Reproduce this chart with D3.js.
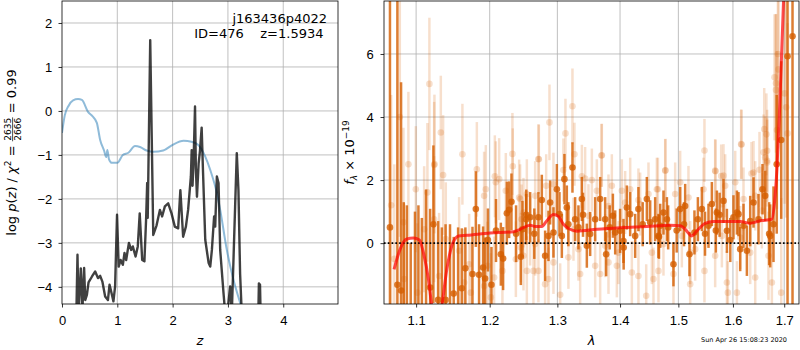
<!DOCTYPE html>
<html>
<head>
<meta charset="utf-8">
<script src="https://cdn.jsdelivr.net/npm/d3@7"></script>
<style>
  body { margin: 0; background: #fff; }
  svg { font-family: "DejaVu Sans", sans-serif; }
  .axis text { font-size: 13px; fill: #000; }
  .axis line { stroke: #000; stroke-width: 0.8; }
  .axis path { display: none; }
  .grid line { stroke: #b0b0b0; stroke-width: 0.8; }
  .frame { fill: none; stroke: #000; stroke-width: 0.8; }
</style>
</head>
<body>
<svg id="fig" width="800" height="350"></svg>
<script>
// ---- values ----
var objName = 'j163436p4022',
    objId = 476,
    zBest = 1.5934,
    chi2 = 2635,
    nDof = 2666,
    stamp = 'Sun Apr 26 15:08:23 2020';

var zTicks = [0, 1, 2, 3, 4],
    pTicks = [-4, -3, -2, -1, 0, 1, 2],
    lamTicks = [1.1, 1.2, 1.3, 1.4, 1.5, 1.6, 1.7],
    fluxTicks = [0, 2, 4, 6];

// log p(z) (black)
var pzCurve = [
  [0.26,-4.6],[0.28,-3.27],[0.30,-4.6],[0.34,-3.58],[0.37,-4.5],[0.40,-3.57],[0.42,-4.3],
  [0.45,-4.18],[0.48,-3.9],[0.54,-3.77],[0.60,-3.65],[0.65,-3.8],[0.69,-3.75],[0.73,-3.88],
  [0.78,-4.22],[0.83,-4.3],[0.86,-3.95],[0.91,-4.22],[0.93,-4.33],[0.96,-3.99],[0.995,-2.36],
  [1.025,-3.54],[1.06,-3.39],[1.10,-3.5],[1.13,-3.23],[1.16,-3.39],[1.21,-3.0],[1.25,-3.16],
  [1.28,-3.08],[1.33,-3.31],[1.37,-3.08],[1.405,-2.33],[1.45,-3.39],[1.49,-3.42],[1.52,-2.48],
  [1.54,-1.64],[1.55,-2.43],[1.595,1.61],[1.65,-2.82],[1.71,-2.6],[1.77,-2.25],[1.81,-2.4],
  [1.86,-2.17],[1.92,-2.1],[1.98,-2.33],[2.04,-2.63],[2.10,-2.67],[2.14,-1.8],[2.19,-2.86],
  [2.24,-2.63],[2.28,-2.25],[2.33,-1.49],[2.345,-0.89],[2.36,-1.7],[2.38,-1.1],[2.405,0.1],
  [2.42,-1.3],[2.44,-1.95],[2.47,-1.2],[2.495,-0.9],[2.525,-0.38],[2.55,-1.4],[2.59,-2.93],
  [2.65,-3.45],[2.68,-3.54],[2.71,-3.16],[2.75,-2.4],[2.77,-2.63],[2.80,-1.49],[2.83,-1.64],
  [2.86,-3.16],[2.92,-4.14],[2.95,-4.6],[2.99,-4.6],[3.04,-3.99],[3.07,-4.6],[3.10,-3.4],
  [3.13,-2.17],[3.16,-0.96],[3.19,-1.8],[3.22,-3.7],[3.25,-4.6],[3.55,-4.6],[3.56,-3.92],
  [3.58,-3.95],[3.59,-4.6]
];

// chi2 based curve (blue)
var chiCurve = [
  [0,-0.5],[0.05,-0.1],[0.12,0.12],[0.2,0.24],[0.29,0.27],[0.36,0.25],[0.47,-0.02],[0.55,-0.12],
  [0.63,-0.27],[0.69,-0.66],[0.76,-0.9],[0.8,-1.05],[0.82,-0.89],[0.85,-1.1],[0.9,-1.18],
  [1.0,-1.18],[1.1,-1.0],[1.2,-0.95],[1.32,-0.8],[1.41,-0.82],[1.53,-0.9],[1.65,-0.93],
  [1.83,-0.9],[2.0,-0.77],[2.2,-0.68],[2.34,-0.7],[2.46,-0.77],[2.59,-1.04],[2.68,-1.34],
  [2.8,-1.87],[2.86,-2.25],[2.98,-3.16],[3.1,-3.84],[3.22,-4.36],[3.3,-4.7]
];

// best-fit model (red)
var modelCurve = [
  [1.0717,-0.83],[1.0794,-0.19],[1.0880,0.13],[1.0965,0.16],[1.1043,0.10],[1.1095,-0.30],
  [1.1161,-1.14],[1.1206,-2.0],[1.1250,-2.6],[1.1300,-2.6],[1.1340,-2.0],[1.1407,-0.83],
  [1.1475,-0.08],[1.1565,0.23],[1.1680,0.25],[1.2006,0.32],[1.2342,0.36],[1.2440,0.44],
  [1.2588,0.57],[1.2663,0.53],[1.2763,0.53],[1.2839,0.71],[1.2940,0.91],[1.3016,0.85],
  [1.3093,0.60],[1.3198,0.44],[1.3303,0.38],[1.3621,0.44],[1.4001,0.49],[1.4451,0.53],
  [1.4854,0.57],[1.5032,0.55],[1.5121,0.44],[1.5241,0.23],[1.5331,0.39],[1.5483,0.63],
  [1.5636,0.69],[1.6138,0.69],[1.6330,0.63],[1.6524,0.71],[1.6754,0.76],[1.6806,1.29],
  [1.6854,2.35],[1.6900,3.94],[1.6987,7.7],[1.7020,9.0]
];

// binned spectrum: [lambda, flux, err]
var specBinned = [
  [1.0665,0.5,8.0],[1.0759,-1.32,9.5],[1.0806,-1.5,6.6],[1.0840,-2.2,3.5],[1.0880,-2.5,3.7],
  [1.0930,-3.0,3.0],[1.0985,-2.5,3.5],[1.1030,-2.8,4.0],[1.1075,-3.0,3.8],[1.1130,-2.5,4.2],
  [1.1184,-1.41,2.5],[1.1227,0.6,2.5],[1.1290,-1.8,2.5],[1.1340,-2.5,3.0],[1.1390,-1.8,2.4],
  [1.1450,-2.2,2.8],[1.1500,-1.6,1.8],[1.1560,-2.4,2.9],[1.1611,-1.43,1.9],[1.1660,-0.8,1.3],
  [1.1758,-0.98,1.5],[1.1805,1.08,1.2],[1.1850,-1.0,1.6],[1.1907,-0.77,1.3],[1.1935,-1.12,1.3],
  [1.1975,0.1,1.0],[1.2025,-1.32,1.2],[1.2090,0.4,1.0],[1.2159,-0.35,1.0],[1.2192,-0.49,1.0],
  [1.2246,0.95,1.0],[1.2279,1.06,0.9],[1.2313,1.31,0.9],[1.2380,0.3,0.9],[1.2450,-0.43,0.9],
  [1.2474,0.44,0.9],[1.2529,0.76,0.8],[1.2530,0.9,0.8],[1.2588,0.82,0.8],[1.2650,0.3,0.8],
  [1.2712,0.82,0.8],[1.2763,1.37,0.8],[1.2813,-0.40,0.8],[1.2864,0.23,0.8],[1.2889,1.29,0.7],
  [1.2940,0.34,0.8],[1.2992,1.71,0.8],[1.3032,0.92,0.7],[1.3069,0.23,0.7],[1.3109,2.03,0.8],
  [1.3146,1.13,0.7],[1.3170,0.6,0.7],[1.3234,2.40,0.8],[1.3276,0.76,0.7],[1.3328,0.50,0.7],
  [1.3382,1.40,0.7],[1.3400,0.9,0.7],[1.3461,-0.08,0.7],[1.3514,0.29,0.7],[1.3594,0.76,0.7],
  [1.3675,1.40,0.7],[1.3756,0.76,0.7],[1.3772,-0.35,0.7],[1.3830,0.5,0.7],[1.3882,0.87,0.7],
  [1.3920,0.34,0.7],[1.4001,0.39,0.7],[1.4057,0.07,0.7],[1.4060,-0.14,0.7],[1.4113,1.13,0.7],
  [1.4169,0.92,0.7],[1.4253,0.23,0.7],[1.4308,1.08,0.7],[1.4380,0.6,0.7],[1.4451,1.40,0.7],
  [1.4508,0.66,0.7],[1.4594,0.76,0.7],[1.4651,0.23,0.7],[1.4660,0.2,0.7],[1.4681,0.55,0.7],
  [1.4738,0.97,0.7],[1.4798,0.76,0.7],[1.4820,0.5,0.7],[1.4913,-0.67,0.7],[1.4970,0.4,0.7],
  [1.5032,1.08,0.7],[1.5100,0.6,0.7],[1.5121,1.18,0.7],[1.5198,-0.35,0.7],[1.5288,0.34,0.7],
  [1.5350,0.76,0.7],[1.5423,1.08,0.7],[1.5480,0.3,0.7],[1.5544,0.55,0.7],[1.5606,1.24,0.7],
  [1.5680,0.4,0.7],[1.5699,0.97,0.7],[1.5750,0.9,0.7],[1.5822,1.34,0.7],[1.5886,0.39,0.7],
  [1.5950,0.1,0.7],[1.6010,0.82,0.7],[1.6075,0.97,0.7],[1.6105,0.92,0.7],[1.6138,-0.19,0.7],
  [1.6201,0.55,0.7],[1.6266,-0.24,0.8],[1.6330,0.7,0.8],[1.6394,1.29,0.8],[1.6491,0.76,0.8],
  [1.6569,1.71,0.8],[1.6622,1.50,0.8],[1.6700,0.3,1.0],[1.6721,0.23,1.0],[1.6786,0.60,1.2],
  [1.6850,2.5,2.2],[1.6940,3.27,2.5],[1.7067,5.93,9.0],[1.7168,6.56,9.0]
];

// unbinned spectrum: [lambda, flux, err]
var specRaw = [
  [1.0680,1.2,3.5],[1.0720,-0.5,3.0],[1.0790,4.0,3.8],[1.0836,0.66,3.0],[1.0845,-1.14,2.4],
  [1.0900,2.5,2.3],[1.0996,1.71,2.0],[1.1017,-1.57,2.2],[1.1105,0.44,2.0],[1.1148,1.61,2.2],
  [1.1174,5.05,2.1],[1.1237,2.48,2.0],[1.1237,0.76,2.0],[1.1241,2.51,2.2],[1.1303,-1.04,2.0],
  [1.1326,3.51,1.8],[1.1357,2.16,1.9],[1.1393,0.13,1.8],[1.1574,-0.24,1.7],[1.1619,2.82,1.6],
  [1.1643,-1.25,1.7],[1.1712,-0.67,1.6],[1.1735,-1.57,1.6],[1.1819,2.34,1.5],[1.1921,1.5,1.4],
  [1.1921,-1.36,1.5],[1.1945,1.71,1.4],[1.1968,-0.72,1.4],[1.2016,-1.72,1.4],[1.2063,-1.09,1.3],
  [1.2073,2.12,1.3],[1.2087,1.93,1.3],[1.2135,2.03,1.3],[1.2182,-0.88,1.3],[1.2231,1.66,1.2],
  [1.2327,2.83,1.3],[1.2332,2.44,1.2],[1.2377,-0.51,1.2],[1.2425,1.45,1.2],[1.2440,1.4,1.1],
  [1.2450,-0.14,1.1],[1.2461,0.76,1.1],[1.2489,-0.4,1.1],[1.2489,0.97,1.1],[1.2539,1.56,1.1],
  [1.2539,-0.88,1.1],[1.2588,0.39,1.1],[1.2637,-0.88,1.1],[1.2663,1.5,1.1],[1.2663,-0.03,1.0],
  [1.2712,2.67,1.1],[1.2712,-0.88,1.0],[1.2718,2.66,1.1],[1.2813,-1.3,1.0],[1.2829,1.82,1.0],
  [1.2864,-1.14,1.0],[1.2879,3.83,1.2],[1.2940,1.87,1.0],[1.2940,-0.61,1.0],[1.3043,-1.64,1.0],
  [1.3093,2.32,1.0],[1.3125,3.48,1.1],[1.3171,-0.45,1.0],[1.3234,4.34,1.2],[1.3250,0.44,1.0],
  [1.3265,2.82,1.0],[1.3328,-0.19,1.0],[1.3355,-0.98,1.0],[1.3382,2.12,1.0],[1.3434,2.05,1.0],
  [1.3487,0.87,1.0],[1.3541,2.0,1.0],[1.3594,-0.72,1.0],[1.3621,1.66,1.0],[1.3675,-0.98,1.0],
  [1.3696,2.78,1.0],[1.3702,2.79,1.0],[1.3756,-0.08,1.0],[1.3810,1.18,1.0],[1.3810,-0.61,1.0],
  [1.3865,1.82,1.0],[1.3947,-0.72,1.0],[1.3974,-0.3,1.0],[1.4030,1.66,1.0],[1.4085,1.29,1.0],
  [1.4169,1.71,1.0],[1.4197,-0.93,1.0],[1.4308,1.37,1.0],[1.4308,-1.04,1.0],[1.4337,1.24,1.0],
  [1.4440,-1.67,1.0],[1.4479,1.56,1.0],[1.4537,-0.3,1.0],[1.4565,-1.14,1.0],[1.4623,1.71,1.0],
  [1.4641,1.71,1.0],[1.4651,-0.88,1.0],[1.4738,-0.03,1.0],[1.4768,2.3,1.0],[1.4773,2.31,1.0],
  [1.4913,-0.98,1.0],[1.4943,1.56,1.0],[1.5032,1.93,1.0],[1.5062,0.23,1.0],[1.5180,1.45,1.0],
  [1.5211,-1.3,1.0],[1.5211,-0.3,1.0],[1.5301,-0.19,1.0],[1.5452,1.71,1.0],[1.5470,2.94,1.0],
  [1.5470,-0.88,1.0],[1.5667,2.3,1.0],[1.5667,-0.4,1.0],[1.5673,2.28,1.0],[1.5779,2.13,1.0],
  [1.5792,0.23,1.0],[1.5822,2.14,1.0],[1.5854,1.82,1.0],[1.5886,-1.25,1.0],[1.5904,-1.57,1.0],
  [1.6043,1.93,1.0],[1.6075,-1.57,1.0],[1.6138,0.18,1.0],[1.6156,3.14,1.1],[1.6163,3.13,1.1],
  [1.6201,1.4,1.0],[1.6330,-0.3,1.0],[1.6355,2.21,1.0],[1.6394,2.24,1.0],[1.6427,1.5,1.1],
  [1.6427,-1.09,1.1],[1.6510,2.33,1.2],[1.6557,1.03,1.2],[1.6589,2.88,1.2],[1.6603,3.62,1.3],
  [1.6622,2.72,1.3],[1.6646,3.45,1.3],[1.6660,2.61,1.3],[1.6660,2.93,1.3],[1.6660,2.56,1.4],
  [1.6687,-0.4,1.4],[1.6754,-1.25,1.5],[1.6806,5.26,2.0],[1.6835,5.07,2.2],[1.6835,4.86,2.4],
  [1.6855,3.59,2.5],[1.6873,6.0,3.0],[1.6886,5.51,3.0],[1.6940,-1.57,3.0],[1.7008,4.75,3.5],
  [1.7040,4.31,3.5],[1.7067,3.48,3.5]
];

var
  svg = d3.select('#fig'),
  pzBox = {left: 62, top: 1, right: 338, bottom: 304},
  spBox = {left: 384, top: 1, right: 799, bottom: 304},
  specColor = '#d55e00',
  xZ = d3.scaleLinear().domain([0, 4.99]).range([pzBox.left, pzBox.right]),
  yP = d3.scaleLinear().domain([-4.39, 2.5]).range([pzBox.bottom, pzBox.top]),
  xL = d3.scaleLog().domain([1.059, 1.730]).range([spBox.left, spBox.right]),
  yF = d3.scaleLinear().domain([-1.93, 7.68]).range([spBox.bottom, spBox.top])
  ;

function addClip(id, box) {
  svg.append('clipPath').attr('id', id)
    .append('rect')
    .attr('x', box.left).attr('y', box.top)
    .attr('width', box.right - box.left).attr('height', box.bottom - box.top);
}
addClip('clipPz', pzBox);
addClip('clipSp', spBox);

function grid(box, xs, xv, ys, yv) {
  var g = svg.append('g').attr('class', 'grid');
  g.selectAll('.gx').data(xv).enter().append('line')
    .attr('x1', d => xs(d)).attr('x2', d => xs(d))
    .attr('y1', box.top).attr('y2', box.bottom);
  g.selectAll('.gy').data(yv).enter().append('line')
    .attr('x1', box.left).attr('x2', box.right)
    .attr('y1', d => ys(d)).attr('y2', d => ys(d));
}
grid(pzBox, xZ, zTicks.slice(1), yP, pTicks);
grid(spBox, xL, lamTicks, yF, fluxTicks);

// ---- left panel: p(z) ----
var pz = svg.append('g').attr('clip-path', 'url(#clipPz)'),
    zLine = d3.line().x(d => xZ(d[0])).y(d => yP(d[1]));

pz.append('path')
  .attr('d', zLine.curve(d3.curveMonotoneX)(chiCurve))
  .attr('fill', 'none')
  .attr('stroke', '#1f77b4')
  .attr('stroke-opacity', 0.5)
  .attr('stroke-width', 2);

pz.append('path')
  .attr('d', zLine.curve(d3.curveLinear)(pzCurve))
  .attr('fill', 'none')
  .attr('stroke', '#000')
  .attr('stroke-opacity', 0.75)
  .attr('stroke-width', 2.4)
  .attr('stroke-linejoin', 'round');

// ---- right panel: spectrum ----
var sp = svg.append('g').attr('clip-path', 'url(#clipSp)');

function errorbars(data, alpha) {
  var g = sp.append('g');
  g.selectAll('line').data(data).enter().append('line')
    .attr('x1', d => xL(d[0])).attr('x2', d => xL(d[0]))
    .attr('y1', d => yF(d[1] - d[2])).attr('y2', d => yF(d[1] + d[2]))
    .attr('stroke', specColor)
    .attr('stroke-opacity', alpha)
    .attr('stroke-width', 2.5);
  g.selectAll('circle').data(data).enter().append('circle')
    .attr('cx', d => xL(d[0]))
    .attr('cy', d => yF(d[1]))
    .attr('r', 3.3)
    .attr('fill', specColor)
    .attr('fill-opacity', alpha);
}
errorbars(specRaw, 0.2);
errorbars(specBinned, 0.8);

sp.append('line')
  .attr('x1', spBox.left).attr('x2', spBox.right)
  .attr('y1', yF(0)).attr('y2', yF(0))
  .attr('stroke', '#000')
  .attr('stroke-width', 1.6)
  .attr('stroke-dasharray', '1.6,2.2');

sp.append('path')
  .attr('d', d3.line().curve(d3.curveMonotoneX).x(d => xL(d[0])).y(d => yF(d[1]))(modelCurve))
  .attr('fill', 'none')
  .attr('stroke', '#ff0000')
  .attr('stroke-opacity', 0.7)
  .attr('stroke-width', 3);

// ---- frames and axes ----
[pzBox, spBox].forEach(b => {
  svg.append('rect').attr('class', 'frame')
    .attr('x', b.left).attr('y', b.top)
    .attr('width', b.right - b.left).attr('height', b.bottom - b.top);
});

svg.append('g').attr('class', 'axis')
  .attr('transform', 'translate(0,' + pzBox.bottom + ')')
  .call(d3.axisBottom(xZ).tickValues(zTicks).tickFormat(d3.format('d')).tickSizeOuter(0).tickSize(3.5).tickPadding(8.3));
svg.append('g').attr('class', 'axis')
  .attr('transform', 'translate(' + pzBox.left + ',0)')
  .call(d3.axisLeft(yP).tickValues(pTicks).tickFormat(d3.format('d')).tickSizeOuter(0).tickSize(3.5).tickPadding(6.3));
svg.append('g').attr('class', 'axis')
  .attr('transform', 'translate(0,' + spBox.bottom + ')')
  .call(d3.axisBottom(xL).tickValues(lamTicks).tickFormat(d3.format('.1f')).tickSizeOuter(0).tickSize(3.5).tickPadding(8.3));
svg.append('g').attr('class', 'axis')
  .attr('transform', 'translate(' + spBox.left + ',0)')
  .call(d3.axisLeft(yF).tickValues(fluxTicks).tickFormat(d3.format('d')).tickSizeOuter(0).tickSize(3.5).tickPadding(6.8));

// ---- labels ----
svg.append('text')
  .attr('x', (pzBox.left + pzBox.right) / 2).attr('y', 345)
  .attr('text-anchor', 'middle').attr('font-size', 13).attr('font-style', 'italic')
  .text('z');
svg.append('text')
  .attr('x', (spBox.left + spBox.right) / 2).attr('y', 345)
  .attr('text-anchor', 'middle').attr('font-size', 13).attr('font-style', 'italic')
  .text('λ');

svg.append('text')
  .attr('x', 327).attr('y', 22.5)
  .attr('text-anchor', 'end').attr('font-size', 13)
  .text(objName);
svg.append('text')
  .attr('x', 323.5).attr('y', 37.5)
  .attr('text-anchor', 'end').attr('font-size', 13)
  .style('white-space', 'pre')
  .text('ID=' + objId + '    z=' + zBest.toFixed(4));

svg.append('text')
  .attr('x', 787).attr('y', 342)
  .attr('text-anchor', 'end').attr('font-size', 6.5)
  .text(stamp);

// y label of p(z): log p(z) / chi^2 = a/b = r
var yLab = svg.append('g').attr('transform', 'translate(16,' + (pzBox.top + pzBox.bottom) / 2 + ') rotate(-90)'),
    inner = yLab.append('g'),
    t1 = inner.append('text').attr('font-size', 13).style('white-space', 'pre');
t1.append('tspan').text('log ');
t1.append('tspan').attr('font-style', 'italic').text('p');
t1.append('tspan').text('(');
t1.append('tspan').attr('font-style', 'italic').text('z');
t1.append('tspan').text(') / ');
t1.append('tspan').attr('font-style', 'italic').text('χ');
t1.append('tspan').attr('dy', -5).attr('font-size', 9).text('2');
t1.append('tspan').attr('dy', 5).text(' = ');
var w1 = t1.node().getComputedTextLength(),
    num = inner.append('text').attr('font-size', 9).attr('y', -4.8).text(chi2),
    den = inner.append('text').attr('font-size', 9).attr('y', 4.8).text(nDof),
    fw = Math.max(num.node().getComputedTextLength(), den.node().getComputedTextLength()) + 1;
num.attr('x', w1 + fw / 2).attr('text-anchor', 'middle');
den.attr('x', w1 + fw / 2).attr('text-anchor', 'middle');
inner.append('line')
  .attr('x1', w1).attr('x2', w1 + fw)
  .attr('y1', -3.4).attr('y2', -3.4)
  .attr('stroke', '#000').attr('stroke-width', 0.7);
var t3 = inner.append('text').attr('font-size', 13).style('white-space', 'pre')
  .attr('x', w1 + fw).text(' = ' + (chi2 / nDof).toFixed(2));
var total = w1 + fw + t3.node().getComputedTextLength();
inner.attr('transform', 'translate(' + (-total / 2) + ',0)');

// y label of spectrum
var fLab = svg.append('text')
  .attr('transform', 'translate(354,' + (spBox.top + spBox.bottom) / 2 + ') rotate(-90)')
  .attr('text-anchor', 'middle').attr('font-size', 13).style('white-space', 'pre');
fLab.append('tspan').attr('font-style', 'italic').text('f');
fLab.append('tspan').attr('dy', 3).attr('font-size', 9).attr('font-style', 'italic').text('λ');
fLab.append('tspan').attr('dy', -3).text(' × 10');
fLab.append('tspan').attr('dy', -5.5).attr('font-size', 9).text('−19');
</script>
</body>
</html>
